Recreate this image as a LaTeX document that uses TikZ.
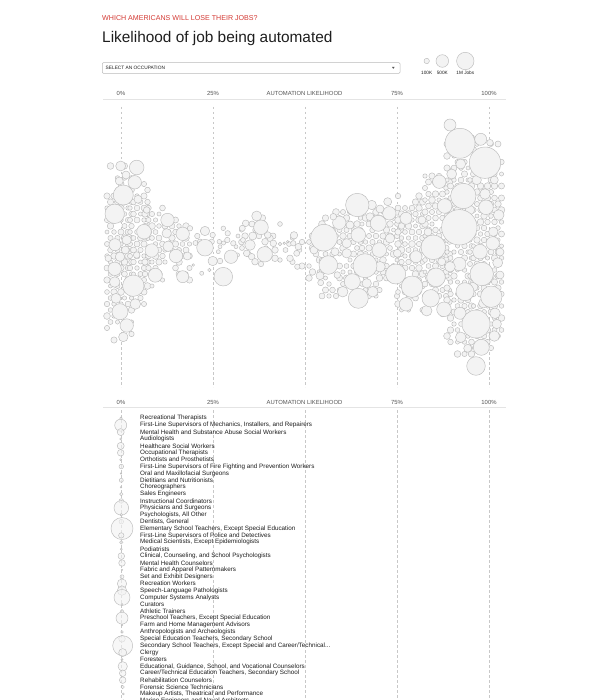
\documentclass[tikz,border=0pt]{standalone}
\usepackage{fontspec}
\setmainfont{Liberation Sans}
\definecolor{jobred}{HTML}{D43A34}
\definecolor{bubblefill}{HTML}{F3F3F3}
\definecolor{bubbleline}{HTML}{BBBBBB}
\definecolor{guidegray}{HTML}{C8C8C8}
\definecolor{rulegray}{HTML}{E4E4E4}
\definecolor{labelgray}{HTML}{555555}
\definecolor{inkgray}{HTML}{1E1E1E}

\begin{document}
\begin{tikzpicture}[x=1pt,y=-1pt,
    bubble/.style ={draw=bubbleline, fill=bubblefill, line width=0.45pt},
    guide/.style ={draw=guidegray, line width=0.5pt, dash pattern=on 2.5pt off 2.5pt},
    axis/.style ={inner sep=0pt, text=labelgray, font=\fontsize{5.9}{6}\selectfont},
    occupation/.style ={anchor=west, inner sep=0pt, text=inkgray, font=\fontsize{6.3}{7}\selectfont},
    legend/.style ={inner sep=0pt, text=inkgray, font=\fontsize{4.7}{5}\selectfont}]
   \useasboundingbox (0,0) rectangle (600,700);
   \fill[white] (0,0) rectangle (600,700);
   \clip (0,0) rectangle (600,700);
   \pgfmathsetseed{42}

   % heading
   \node[anchor=base west, inner sep=0pt, text=jobred, font=\fontsize{7.1}{8}\selectfont] (kicker) at (102,21) {WHICH AMERICANS WILL LOSE THEIR JOBS?};
   \node[anchor=base west, inner sep=0pt, text=inkgray, font=\fontsize{15.4}{16}\selectfont] (title) at (102,42.3) {Likelihood of job being automated};

   % occupation menu
   \draw[draw=bubbleline, line width=0.5pt, rounded corners=1pt] (102.3,62.7) rectangle (400,73.3);
   \node[anchor=west, inner sep=0pt, text=inkgray, font=\fontsize{4.8}{5}\selectfont] (select) at (105.5,68) {SELECT AN OCCUPATION};
   \fill[labelgray] (392,67) -- (394.6,67) -- (393.3,68.8) -- cycle;

   % size legend
   \draw[bubble] (426.7,61) circle (2.7);
   \draw[bubble] (442.3,61) circle (6.3);
   \draw[bubble] (465.3,61) circle (8.7);
   \node[legend] (small) at (426.7,73.3) {100K};
   \node[legend] (mid) at (442.3,73.3) {500K};
   \node[legend] (big) at (465.3,73.3) {1M Jobs};

   % axes
   \foreach \pos/\lab [count=\n] in {121/0\%, 213/25\%, 397/75\%, 489/100\%}{
      \node[axis] (top\n) at (\pos,93.3) {\lab};
      \node[axis] (low\n) at (\pos,402.3) {\lab};
   }
   \node[axis] (toptitle) at (304.5,93.3) {AUTOMATION LIKELIHOOD};
   \node[axis] (lowtitle) at (304.5,402.3) {AUTOMATION LIKELIHOOD};
   \draw[rulegray, line width=0.5pt] (103,99) -- (506,99);
   \draw[rulegray, line width=0.5pt] (103,407.3) -- (506,407.3);
   \foreach \pos in {121,213,305,397,489}{
      \draw[guide] (\pos,107) -- (\pos,387);
      \draw[guide] (\pos,410) -- (\pos,700);
   }

   % swarm: small packing
   \foreach \xa/\xb/\ya/\yb/\dens in {107/130/160/342/0.95, 130/145/172/312/0.95, 145/165/202/290/0.9,
         165/192/214/283/0.8, 192/240/225/272/0.12, 238/282/212/266/0.3, 282/300/232/268/0.15,
         302/322/230/283/0.7, 322/362/200/303/0.85, 362/398/200/300/0.9, 398/425/184/313/0.95,
         425/447/164/320/0.95, 447/470/120/372/0.9, 470/503/132/358/0.9}{
      \pgfmathtruncatemacro\nx{(\xb-\xa)/7}
      \pgfmathtruncatemacro\ny{(\yb-\ya)/6}
      \foreach \i in {0,...,\nx}{
         \foreach \j in {0,...,\ny}{
            \pgfmathsetmacro\px{\xa+7*\i+3.5*mod(\j,2)}
            \pgfmathsetmacro\py{\ya+6*\j}
            \pgfmathsetmacro\dd{abs((\py-(\ya+\yb)/2)/((\yb-\ya)/2))}
            \pgfmathtruncatemacro\keep{rnd<\dens*(1-\dd^4)}
            \pgfmathsetmacro\pr{2+1.4*rnd}
            \ifnum\keep=1 \draw[bubble] (\px,\py) circle (\pr); \fi
         }
      }
   }

   % swarm: medium bubbles
   \foreach \cx/\cy/\cr in {120.7/166/5, 126/175/4, 119.3/181/4, 134.7/182.3/6.7, 138/199.3/4, 146.7/210/3.3,
         167.5/220/6.7, 182.7/233.8/6.7, 115/244.7/6, 151.7/250.5/6.7, 168.2/246.3/5.3, 176/256/6.7,
         182.7/276.7/6, 114.7/268.8/6.7, 114.7/282/5.3, 116/298.3/5, 135.3/304/5.3, 126.7/325.5/6.7,
         123.3/337/4.7, 108.3/258.3/3.3, 166.7/233.3/4.7, 187.3/256/4, 120/256.7/4.7, 126.7/240/4.7,
         125.3/250/4, 136.7/255/3.3,
         205/231/4.7, 197.3/236/2.7, 212.7/235/2.7, 200/241.7/2.7, 211.7/241.7/2.7, 212.7/261/4.7,
         231/256.7/6.7, 223.3/228.3/2.3, 227.7/233.3/2.7, 227.3/240/2.7, 233.3/243.3/2.7, 236/246.7/2,
         219.3/241.7/2.3, 220/246.7/2, 218.3/251.7/2, 209.3/270/1.7, 201.7/273.3/2, 193.3/265/1.3,
         190/228.3/2.7, 245.7/223.3/3.3, 242.3/228.3/3, 256.7/216/5, 252.7/236/4, 250/245/5.3,
         246.7/253.3/3.3, 251.7/256.7/3.3, 255/261.7/3.3, 261/264/2.7, 270/238.3/3.3, 273.3/243.3/3.3,
         275/250/3.3, 267.7/235/3.3, 265/241.7/3.3, 275/258.3/3.3, 280/244/1.7, 284.3/243.3/1.3,
         287.7/241.7/1.3, 294/235.3/3.7, 293.3/243.3/2.7, 290/258.3/3.3, 297.3/266.7/2.7, 298.3/246.7/3.3,
         296.7/253.3/3, 242/248/2.5, 243/240/2.5,
         387.7/201.7/4, 389.3/213.3/6.7, 339.3/222.7/6.7, 342.7/291.7/5.3, 372.7/291.7/5.3, 406/304.3/6.7,
         406/218.3/6, 320/275.7/4, 320.7/282.7/3, 337.3/275/3.3, 314/250/4, 371.7/205/4.7, 380/209/4,
         333.3/216.7/3.3, 350/225/4, 370/216.7/4, 390/238.3/4.7, 346.7/243.3/4.7, 346.7/253.3/4.7,
         335/251.7/4, 380/266.7/5.3, 397.3/253.3/4, 366.7/283.3/4.7, 416/256.7/6,
         450/125/6, 480.7/139.3/6, 490/142.7/3.3, 460.7/164/5, 451.7/174/5, 439.3/181.7/6.7, 485/194/5.3,
         494.3/180/4, 498.7/215/5.3, 493.3/231.7/4.7, 492.7/243.3/6.7, 459.3/264/6.7, 497.7/262.7/5,
         426.7/310.7/5.3, 460/313.3/6, 495/313.3/5.3, 496.7/324/4.7, 494.3/336/5.3, 460.7/337.3/5.3,
         467.7/348.3/4, 476.7/180/4.7, 450/266.7/5.3, 441.7/261.7/4, 473.3/286.7/4.7, 483.3/303.3/4.7,
         470/210/4.7, 422/220/4, 428/232/4, 500/275/4, 500/252/4}
      \draw[bubble] (\cx,\cy) circle (\cr);

   % swarm: large bubbles
   \foreach \cx/\cy/\cr in {136.7/167.5/7.3, 123.3/195/10, 114.7/213.8/9.7, 144/231.7/7.3, 155.3/275.2/7,
         133.3/285.7/10.7, 120/311.7/8,
         205/247.7/8.3, 223.3/276.7/9.3, 261/227.3/7.3, 264.7/254.3/7.7,
         357.3/205/11.7, 378.3/223.3/8, 358.3/235/7.3, 324/237.7/13.3, 379.3/250/7.3, 365/265.7/12,
         328.3/265/9.3, 352.3/281.7/8, 358.3/298.3/10, 395.7/274/10, 412/286.7/10.7,
         460/143.3/15, 485/162.7/15.7, 463.3/196/12.7, 486/207.3/7.3, 444.7/206/7.3, 459.3/227.3/17.7,
         433.3/247.3/12.3, 480/251.7/7.3, 436/277.3/9.3, 481.7/274/11.7, 465/291.7/9, 491.3/296.7/10.7,
         430.7/298.3/8.7, 444/309.3/7.3, 476/324/14, 481.3/347.3/8, 476/366/9.3}
      \draw[bubble] (\cx,\cy) circle (\cr);

   % occupations
   \foreach \cx/\cr/\name [count=\k from 0] in {
         121/1.3/Recreational Therapists,
         120.7/6/{First-Line Supervisors of Mechanics, Installers, and Repairers},
         120.7/3.5/Mental Health and Substance Abuse Social Workers,
         120.7/1/Audiologists,
         120.7/3.5/Healthcare Social Workers,
         120.7/3.3/Occupational Therapists,
         120.7/1/Orthotists and Prosthetists,
         121.3/2.3/First-Line Supervisors of Fire Fighting and Prevention Workers,
         121/0.8/Oral and Maxillofacial Surgeons,
         121.3/2/Dietitians and Nutritionists,
         121/0.8/Choreographers,
         121.3/1.7/Sales Engineers,
         121.3/2.3/Instructional Coordinators,
         121.3/7.3/Physicians and Surgeons,
         121.3/1.3/{Psychologists, All Other},
         121.3/2.3/{Dentists, General},
         122/11/{Elementary School Teachers, Except Special Education},
         121.3/2.7/First-Line Supervisors of Police and Detectives,
         121.3/1.7/{Medical Scientists, Except Epidemiologists},
         121.3/1/Podiatrists,
         121.3/3.3/{Clinical, Counseling, and School Psychologists},
         122/3.3/Mental Health Counselors,
         122/0.7/Fabric and Apparel Patternmakers,
         122/2/Set and Exhibit Designers,
         122/4.7/Recreation Workers,
         122/4.7/Speech-Language Pathologists,
         122/8/Computer Systems Analysts,
         122/1/Curators,
         122/1.7/Athletic Trainers,
         122/6/{Preschool Teachers, Except Special Education},
         122/0.7/Farm and Home Management Advisors,
         122/1.3/Anthropologists and Archeologists,
         122/3.3/{Special Education Teachers, Secondary School},
         122.7/10/{Secondary School Teachers, Except Special and Career/Technical...},
         122.7/4/Clergy,
         122/1/Foresters,
         122.7/4.7/{Educational, Guidance, School, and Vocational Counselors},
         122.7/3.3/{Career/Technical Education Teachers, Secondary School},
         122.7/3.3/Rehabilitation Counselors,
         122.7/1.7/Forensic Science Technicians,
         123.3/1/{Makeup Artists, Theatrical and Performance},
         123.3/1/Marine Engineers and Naval Architects}{
      \pgfmathsetmacro\cy{418.3+6.89*\k}
      \draw[bubble, fill opacity=0.6] (\cx,\cy) circle (\cr);
      \node[occupation] (job\k) at (140,\cy) {\name};
   }
 \end{tikzpicture}
\end{document}
